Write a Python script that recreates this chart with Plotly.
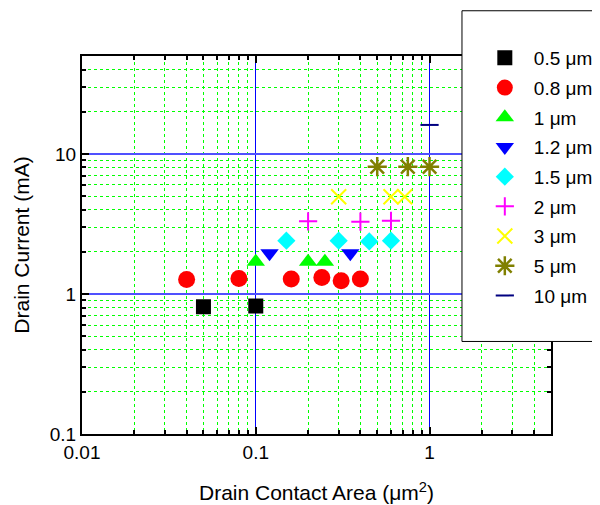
import plotly.graph_objects as go
import math

# Data (drain contact area in um^2, drain current in mA) per gate width
labels = ["0.5 μm", "0.8 μm", "1 μm", "1.2 μm", "1.5 μm", "2 μm", "3 μm", "5 μm", "10 μm"]
x_05 = [0.05, 0.1];            y_05 = [0.81, 0.82]
x_08 = [0.04, 0.08, 0.16, 0.24, 0.31, 0.4]; y_08 = [1.27, 1.29, 1.28, 1.31, 1.24, 1.28]
x_1 = [0.1, 0.2, 0.25];        y_1 = [1.7, 1.7, 1.7]
x_12 = [0.12, 0.35];           y_12 = [1.95, 1.95]
x_15 = [0.15, 0.3, 0.45, 0.6]; y_15 = [2.4, 2.4, 2.37, 2.4]
x_2 = [0.2, 0.4, 0.6];         y_2 = [3.3, 3.28, 3.33]
x_3 = [0.3, 0.6, 0.72];        y_3 = [4.94, 4.94, 4.94]
x_5 = [0.5, 0.75, 1.0];        y_5 = [8.1, 8.1, 8.1]
x_10 = [1.0];                  y_10 = [16.1]

xs = [x_05, x_08, x_1, x_12, x_15, x_2, x_3, x_5, x_10]
ys = [y_05, y_08, y_1, y_12, y_15, y_2, y_3, y_5, y_10]

x_ticks = [0.01, 0.1, 1]
y_ticks = [0.1, 1, 10]

styles = [
    dict(symbol="square", color="black", size=15),
    dict(symbol="circle", color="red", size=17),
    dict(symbol="triangle-up", color="#00ff00", size=16),
    dict(symbol="triangle-down", color="#0000ff", size=16),
    dict(symbol="diamond", color="#00ffff", size=14),
    dict(symbol="cross-thin", color="#ff00ff", size=13, line=dict(width=2, color="#ff00ff")),
    dict(symbol="x-thin", color="#ffff00", size=15, line=dict(width=2, color="#ffff00")),
    dict(symbol="asterisk", color="#808000", size=16, line=dict(width=2.5, color="#808000")),
    dict(symbol="line-ew", color="#000080", size=13, line=dict(width=2, color="#000080")),
]

FONT = "Liberation Sans, Arial, sans-serif"

fig = go.Figure()
for i, (lab, xv, yv, st) in enumerate(zip(labels, xs, ys, styles)):
    m = dict(symbol=st["symbol"], color=st["color"], size=st["size"])
    if "line" in st:
        m["line"] = st["line"]
    else:
        m["line"] = dict(width=0)
    fig.add_trace(go.Scatter(x=xv, y=yv, mode="markers", name=lab, marker=m,
                             legendgroup=f"g{i}"))

axis_common = dict(
    type="log", showline=True, linecolor="black", linewidth=2, mirror="allticks",
    ticks="inside", ticklen=7, tickcolor="black", tickwidth=1.5, automargin=False,
    showgrid=True, zeroline=False,
    tickfont=dict(family=FONT, size=19, color="black"),
    minor=dict(ticks="inside", ticklen=4, tickcolor="black", showgrid=True,
               gridcolor="#00ff00", griddash="dot", gridwidth=1, dtick="D1"),
)

fig.update_xaxes(range=[-2, math.log10(5)], tickvals=x_ticks, ticktext=[str(v) for v in x_ticks],
                 gridcolor="#0000ff", gridwidth=1,
                 title=dict(text="Drain Contact Area (μm<sup>2</sup>)", font=dict(family=FONT, size=21, color="black"), standoff=24),
                 **axis_common)
fig.update_yaxes(range=[-1, math.log10(50)], tickvals=y_ticks, ticktext=[str(v) for v in y_ticks],
                 gridcolor="#5050ff", gridwidth=2,
                 title=dict(text="Drain Current (mA)", font=dict(family=FONT, size=21, color="black"), standoff=14),
                 **axis_common)

fig.add_shape(type="rect", xref="paper", yref="paper", x0=0.8102, x1=1.3, y0=0.2448, y1=1.1197,
              fillcolor="white", line=dict(color="black", width=1), layer="above")

fig.update_layout(
    width=592, height=497,
    margin=dict(l=74, r=49, t=48, b=71, autoexpand=False),
    plot_bgcolor="white", paper_bgcolor="white",
    font=dict(family=FONT, size=18, color="black"),
    legend=dict(x=0.8397, y=1.045, xanchor="left", yanchor="top", bgcolor="rgba(0,0,0,0)",
                borderwidth=0, tracegroupgap=2, font=dict(family=FONT, size=19),
                itemsizing="trace", itemwidth=48, maxheight=2000),
    showlegend=True,
)

fig.write_html("out.html")
